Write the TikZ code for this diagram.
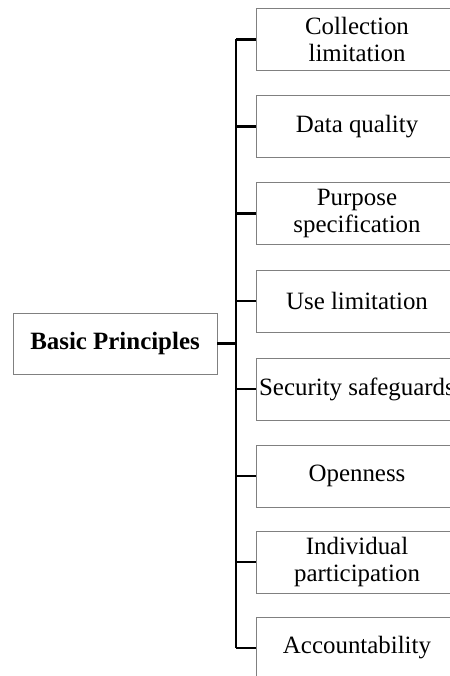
\documentclass[tikz,border=0pt]{standalone}
\usepackage{fontspec}
\setmainfont{Liberation Serif}
\begin{document}
\begin{tikzpicture}[x=1bp,y=-1bp,
  every node/.style={font=\fontsize{25}{27}\selectfont},
  pbox/.style={draw=gray, line width=0.9bp, minimum width=202bp, minimum height=62bp, align=center, inner sep=1bp},
  link/.style={line width=2.2bp, black}]
\clip (0,0) rectangle (450,676);
\node[pbox, minimum width=204bp, minimum height=61bp, font=\fontsize{25}{27}\selectfont\bfseries] (root) at (115,343.5){Basic Principles};
\coordinate (trunk) at (236,343.5);
\node[pbox] (p0) at (357,39.5){Collection\\limitation};
\node[pbox] (p1) at (357,126.5){Data quality};
\node[pbox] (p2) at (357,213.5){Purpose\\specification};
\node[pbox] (p3) at (357,301){Use limitation};
\node[pbox] (p4) at (357,389){Security safeguards};
\node[pbox] (p5) at (357,476){Openness};
\node[pbox] (p6) at (357,562){Individual\\participation};
\node[pbox] (p7) at (357,648){Accountability};
\draw[link](root.east) -- (trunk);
\draw[link](p0.west -| trunk) -- (p7.west -| trunk);
\draw[link](p0.west) -- (p0.west -| trunk);
\draw[link](p1.west) -- (p1.west -| trunk);
\draw[link](p2.west) -- (p2.west -| trunk);
\draw[link](p3.west) -- (p3.west -| trunk);
\draw[link](p4.west) -- (p4.west -| trunk);
\draw[link](p5.west) -- (p5.west -| trunk);
\draw[link](p6.west) -- (p6.west -| trunk);
\draw[link](p7.west) -- (p7.west -| trunk);
\end{tikzpicture}
\end{document}
